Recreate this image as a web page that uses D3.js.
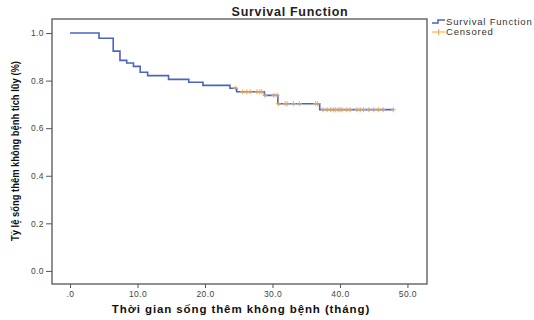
<!DOCTYPE html>
<html><head><meta charset="utf-8">
<script src="https://cdn.jsdelivr.net/npm/d3@7"></script>
<style>body{margin:0;background:#fff}svg{display:block}</style>
</head><body>
<svg id="c" width="534" height="320"></svg>
<script>
const eventTimes = [0, 4.3, 6.4, 7.4, 8.4, 9.4, 10.4, 11.5, 14.6, 17.6, 19.7, 23.7, 24.7, 28.8, 30.8, 37.0];
const survival   = [1.0, 0.978, 0.924, 0.885, 0.874, 0.860, 0.835, 0.821, 0.805, 0.793, 0.780, 0.768, 0.753, 0.738, 0.703, 0.678];
const censoredTimes = [24.5, 25.6, 26.2, 26.7, 27.7, 28.1, 28.4, 28.9, 30.2, 30.7, 30.9, 31.9, 32.2, 33.1, 34.0, 36.4, 36.7,
  37.5, 38.1, 38.6, 39.0, 39.3, 39.7, 40.0, 40.3, 41.0, 41.5, 42.5, 43.0, 43.5, 44.3, 45.0, 45.7, 46.4, 47.9];
const endTime = 47.9;
const xTicks = [0, 10, 20, 30, 40, 50];
const xTickLabels = [".0", "10.0", "20.0", "30.0", "40.0", "50.0"];
const yTicks = [0, 0.2, 0.4, 0.6, 0.8, 1.0];
const yTickLabels = ["0.0", "0.2", "0.4", "0.6", "0.8", "1.0"];
const title = "Survival Function";
const xLabel = "Thời gian sống thêm không bệnh (tháng)";
const yLabel = "Tỷ lệ sống thêm không bệnh tích lũy (%)";
const legendItems = ["Survival Function", "Censored"];

const svg = d3.select("#c");
const L = 52, R = 427, T = 19, B = 284;
const x = d3.scaleLinear().domain([-2.67, 52.9]).range([L, R]);
const y = d3.scaleLinear().domain([-0.055, 1.059]).range([B, T]);
const blue = "#4a64c0", orange = "#f6a833", frame = "#555";
const font = "Liberation Sans, Arial, sans-serif";

// frame
svg.append("rect").attr("x", L).attr("y", T).attr("width", R - L).attr("height", B - T)
  .attr("fill", "#fff").attr("stroke", frame).attr("stroke-width", 1.3);

// axes
const yAxis = d3.axisLeft(y).tickValues(yTicks).tickFormat((d, i) => yTickLabels[i]).tickSize(6).tickPadding(2);
const gy = svg.append("g").attr("transform", `translate(${L},0)`).call(yAxis);
const xAxis = d3.axisBottom(x).tickValues(xTicks).tickFormat((d, i) => xTickLabels[i]).tickSize(4).tickPadding(3);
const gx = svg.append("g").attr("transform", `translate(0,${B})`).call(xAxis);
[gx, gy].forEach(g => {
  g.select(".domain").remove();
  g.selectAll("line").attr("stroke", frame).attr("stroke-width", 1);
  g.selectAll("text").attr("font-family", font).attr("font-size", 8.5)
    .attr("letter-spacing", 0.4).attr("fill", "#444");
});

// survival step line
const pts = eventTimes.map((t, i) => [t, survival[i]]);
pts.push([endTime, survival[survival.length - 1]]);
const line = d3.line().x(d => x(d[0])).y(d => y(d[1])).curve(d3.curveStepAfter);
svg.append("path").datum(pts).attr("d", line).attr("fill", "none")
  .attr("stroke", blue).attr("stroke-width", 1.6);

// censored marks
const sAt = t => survival[d3.bisectRight(eventTimes, t) - 1];
const cg = svg.append("g").attr("stroke", orange).attr("stroke-width", 1.1).attr("opacity", 0.9);
censoredTimes.forEach(t => {
  const cx = x(t), cy = y(sAt(t));
  cg.append("line").attr("x1", cx - 2.5).attr("x2", cx + 2.5).attr("y1", cy).attr("y2", cy);
  cg.append("line").attr("x1", cx).attr("x2", cx).attr("y1", cy - 2.5).attr("y2", cy + 2.5);
});

// title
svg.append("text").attr("x", 290).attr("y", 16).attr("text-anchor", "middle")
  .attr("font-family", font).attr("font-weight", "bold").attr("letter-spacing", 0.7)
  .attr("font-size", 12.5).attr("fill", "#222").text(title);

// x label
svg.append("text").attr("x", 241).attr("y", 313).attr("text-anchor", "middle")
  .attr("font-family", font).attr("font-weight", "bold")
  .attr("font-size", 11.5).attr("letter-spacing", 0.9).attr("fill", "#111").text(xLabel);

// y label (condensed)
svg.append("text").attr("transform", "translate(19,151) rotate(-90)").attr("text-anchor", "middle")
  .attr("font-family", font).attr("font-weight", "bold")
  .attr("font-size", 11.5).attr("textLength", 180).attr("lengthAdjust", "spacingAndGlyphs")
  .attr("fill", "#111").text(yLabel);

// legend
const lg = svg.append("g").attr("font-family", font).attr("font-size", 9.5).attr("letter-spacing", 0.8).attr("fill", "#333");
lg.append("path").attr("d", "M432,23 H438 V20 H445").attr("fill", "none").attr("stroke", blue).attr("stroke-width", 1.5);
lg.append("text").attr("x", 446).attr("y", 25).text(legendItems[0]);
lg.append("line").attr("x1", 432).attr("x2", 445).attr("y1", 32).attr("y2", 32).attr("stroke", orange).attr("stroke-width", 1);
lg.append("line").attr("x1", 438.5).attr("x2", 438.5).attr("y1", 29).attr("y2", 35).attr("stroke", orange).attr("stroke-width", 1);
lg.append("text").attr("x", 446).attr("y", 35).text(legendItems[1]);
</script>
</body></html>
